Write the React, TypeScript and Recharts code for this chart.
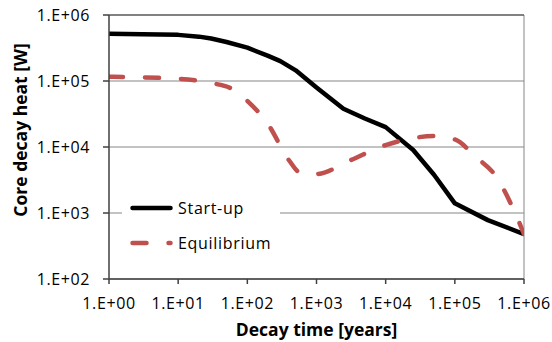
import { LineChart, Line, XAxis, YAxis, CartesianGrid, ReferenceLine, Legend } from 'recharts'

const xTicks = [1, 10, 100, 1000, 10000, 100000, 1000000]
const yTicks = [100, 1000, 10000, 100000, 1000000]

const startupYears = [1, 3, 10, 20, 30, 50, 100, 200, 300, 500, 1000, 2450, 5000, 10000, 25000, 50000, 100000, 300000, 1000000]
const startupHeat = [5.2e5, 5.1e5, 5.0e5, 4.7e5, 4.4e5, 3.9e5, 3.2e5, 2.4e5, 2.0e5, 1.45e5, 8.0e4, 3.8e4, 2.7e4, 2.0e4, 9.0e3, 3.8e3, 1.4e3, 7.8e2, 4.8e2]

const equilibriumYears = [1, 10, 30, 60, 100, 200, 400, 600, 1000, 3000, 10000, 20000, 50000, 100000, 200000, 400000, 700000, 1000000]
const equilibriumHeat = [1.16e5, 1.08e5, 9.3e4, 7.6e4, 5.0e4, 2.2e4, 6.3e3, 4.0e3, 3.9e3, 6.2e3, 1.07e4, 1.3e4, 1.47e4, 1.3e4, 7.1e3, 3.5e3, 1.15e3, 4.8e2]

const startup = startupYears.map((years, i) => ({ years, heat: startupHeat[i] }))
const equilibrium = equilibriumYears.map((years, i) => ({ years, heat: equilibriumHeat[i] }))

const RED = '#C0504D'
const AXIS = '#404040'
const GRID = '#868686'
const FONT = '"Open Sans", sans-serif'

const series = [
  { name: 'Start-up', color: '#000', dash: undefined as string | undefined },
  { name: 'Equilibrium', color: RED, dash: '14 22' },
]

// Excel style tick text, e.g. 1.E+04
function sci(v: number) {
  const e = Math.round(Math.log10(v))
  return '1.E+' + String(e).padStart(2, '0')
}

function LegendBox() {
  return (
    <div style={{ background: '#fff', width: 158, height: 66, position: 'relative', fontFamily: FONT, fontSize: 16, letterSpacing: 0.7, color: '#000' }}>
      {series.map((s, i) => (
        <div key={s.name} style={{ position: 'absolute', left: 0, top: 6 + i * 35, height: 20, display: 'flex', alignItems: 'center' }}>
          <svg width={56} height={20}>
            <line x1={10.5} x2={48.5} y1={10} y2={10} stroke={s.color} strokeWidth={4.5} strokeDasharray={s.dash} strokeLinecap="round" />
          </svg>
          <span style={{ lineHeight: '20px', whiteSpace: 'nowrap' }}>{s.name}</span>
        </div>
      ))}
    </div>
  )
}

export default function App() {
  const tickStyle = { fill: '#000', fontSize: 16, fontFamily: FONT, letterSpacing: 0.6 }
  const titleStyle = { fill: '#000', fontSize: 17.5, fontWeight: 700, fontFamily: FONT }
  return (
    <div style={{ position: 'absolute', left: 0, top: 0, width: 552, height: 342, background: '#fff' }}>
      <LineChart width={552} height={342} margin={{ top: 15, right: 28, bottom: 0, left: 0 }}>
        <CartesianGrid vertical={false} stroke={GRID} />
        <XAxis
          dataKey="years"
          type="number"
          scale="log"
          domain={[1, 1e6]}
          allowDataOverflow
          ticks={xTicks}
          interval={0}
          tickFormatter={sci}
          height={63}
          tickSize={5}
          tickMargin={14}
          axisLine={{ stroke: AXIS, strokeWidth: 1.5 }}
          tickLine={{ stroke: AXIS, strokeWidth: 1.5 }}
          tick={tickStyle}
          label={{ value: 'Decay time [years]', position: 'insideBottom', offset: 6, ...titleStyle }}
        />
        <YAxis
          type="number"
          scale="log"
          domain={[100, 1e6]}
          allowDataOverflow
          ticks={yTicks}
          interval={0}
          tickFormatter={sci}
          width={109}
          tickSize={6}
          tickMargin={13}
          axisLine={{ stroke: AXIS, strokeWidth: 1.5 }}
          tickLine={{ stroke: AXIS, strokeWidth: 1.5 }}
          tick={tickStyle}
          label={{ value: 'Core decay heat [W]', angle: -90, position: 'insideLeft', offset: 21, dy: -17, style: { textAnchor: 'middle' }, ...titleStyle }}
        />
        <ReferenceLine x={1e6} stroke={GRID} />
        <ReferenceLine y={1e6} stroke={AXIS} />
        <Legend
          layout="horizontal"
          verticalAlign="middle"
          align="center"
          content={<LegendBox />}
          wrapperStyle={{ left: 122, top: 192, width: 158, height: 66 }}
        />
        <Line data={startup} dataKey="heat" name="Start-up" type="linear" stroke="#000" strokeWidth={4.5} strokeLinejoin="round" dot={false} isAnimationActive={false} />
        <Line data={equilibrium} dataKey="heat" name="Equilibrium" type="monotone" stroke={RED} strokeWidth={4.5} strokeDasharray="14 22" strokeLinecap="round" dot={false} isAnimationActive={false} />
      </LineChart>
    </div>
  )
}
